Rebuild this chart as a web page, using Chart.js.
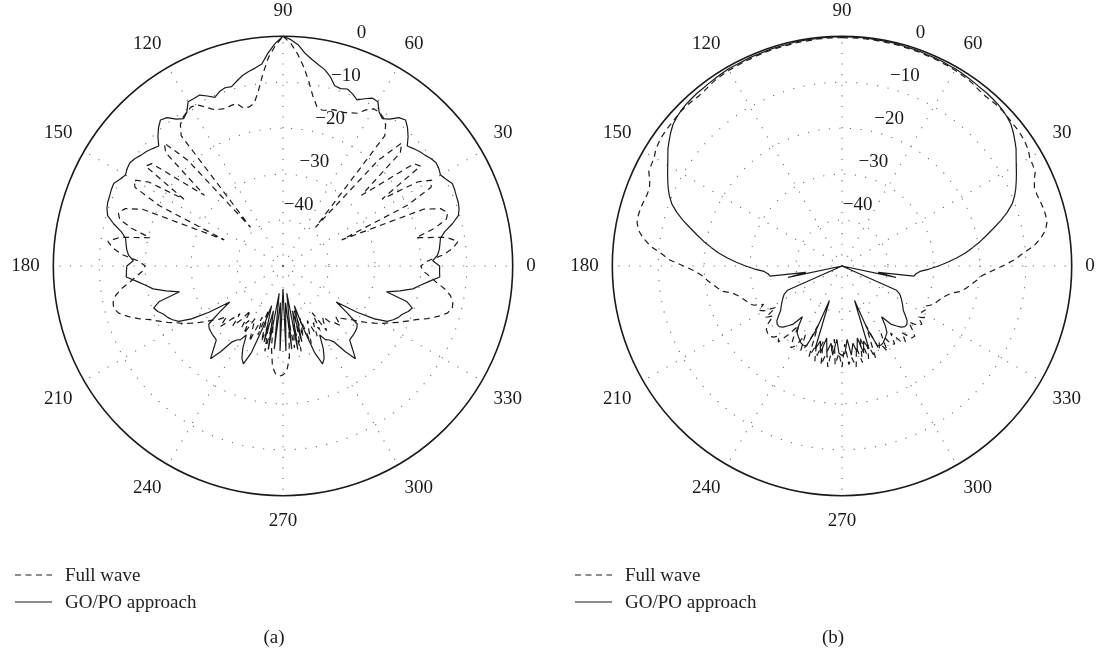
<!DOCTYPE html>
<html>
<head>
<meta charset="utf-8">
<script src="https://cdn.jsdelivr.net/npm/chart.js@4.4.1/dist/chart.umd.min.js"></script>
<style>
html,body{margin:0;padding:0;background:#fff;overflow:hidden;width:1099px;height:656px;position:relative;}
canvas{position:absolute;top:0;}
.legend{position:absolute;font-family:'Liberation Serif','DejaVu Serif',serif;font-size:19px;color:#222;}
.legend .row{display:flex;align-items:center;height:26.7px;white-space:nowrap;}
.legend svg{margin-right:13px;display:block;}
</style>
</head>
<body>
<canvas id="ca" width="548" height="656" style="left:0px"></canvas>
<canvas id="cb" width="548" height="656" style="left:559px"></canvas>
<div id="la" class="legend" style="left:15px;top:562px"></div>
<div id="lb" class="legend" style="left:575px;top:562px"></div>
<script>
// ---- categories: polar angle in degrees (0 = right, 90 = top, counter-clockwise)
const angleDeg = Array.from({length: 180}, (_, i) => i * 2);

// ---- series values in dB, one value per angle in angleDeg (rows of 30 degrees)
const fullWaveA = [
  -20.0,-18.5,-15.0,-12.8,-11.5,-14.0,-20.4,-16.0,-13.0,-12.3,-13.5,-17.0,-36.0,-20.0,-13.5,
  -12.6,-15.5,-24.0,-13.0,-13.8,-22.0,-27.0,-14.5,-12.8,-19.0,-39.0,-14.0,-12.0,-11.0,-10.5,
  -10.5,-11.5,-13.0,-13.5,-14.0,-14.2,-14.2,-14.8,-15.0,-14.5,-12.5,-9.5,-6.5,-3.8,-1.5,
  0.0,-2.0,-4.5,-8.0,-11.5,-14.0,-14.6,-14.6,-13.2,-13.3,-13.5,-13.2,-12.7,-11.5,-10.3,
  -10.0,-10.5,-11.0,-12.0,-14.0,-39.0,-19.0,-12.8,-14.5,-27.0,-22.0,-13.8,-13.0,-24.0,-15.5,
  -12.6,-13.5,-20.0,-36.0,-17.0,-13.5,-12.3,-13.0,-16.0,-20.4,-14.0,-11.5,-12.8,-15.0,-18.5,
  -20.0,-19.5,-18.0,-16.5,-14.5,-13.0,-12.2,-12.0,-12.8,-14.5,-16.5,-18.8,-20.5,-22.0,-23.7,
  -25.0,-26.5,-28.0,-29.5,-31.0,-32.0,-33.5,-31.0,-34.0,-36.0,-33.0,-35.0,-38.0,-34.0,-36.0,
  -33.0,-37.0,-35.0,-32.0,-38.0,-34.0,-40.0,-33.0,-37.0,-31.0,-38.0,-32.0,-28.0,-26.5,-26.0,
  -26.3,-27.0,-30.0,-38.0,-32.0,-37.0,-31.0,-40.0,-34.0,-38.0,-32.0,-35.0,-37.0,-33.0,-36.0,
  -34.0,-38.0,-33.0,-35.0,-36.0,-34.0,-33.5,-32.0,-34.0,-33.0,-32.0,-31.0,-29.5,-28.0,-26.5,
  -25.0,-23.7,-22.0,-20.5,-18.8,-16.5,-14.5,-12.8,-12.0,-12.2,-13.0,-14.5,-16.5,-18.0,-19.5
];
const goPoA = [
  -15.9,-17.4,-16.3,-15.8,-15.5,-15.2,-14.0,-12.0,-10.3,-9.7,-9.4,-9.3,-9.1,-9.0,-9.8,
  -10.4,-10.0,-9.8,-10.2,-10.8,-11.2,-11.8,-12.4,-10.8,-9.5,-8.5,-9.0,-10.5,-11.3,-10.5,
  -8.7,-8.6,-9.5,-10.4,-9.6,-9.0,-9.4,-9.2,-7.5,-6.3,-5.5,-4.6,-3.5,-1.8,-0.7,
  0.0,-1.5,-3.5,-5.8,-6.5,-7.0,-7.6,-8.5,-9.4,-9.2,-9.6,-10.4,-9.5,-8.6,-8.7,
  -8.7,-10.5,-11.3,-10.5,-9.0,-8.5,-9.5,-10.8,-12.4,-11.8,-11.2,-10.8,-10.2,-9.8,-10.0,
  -10.4,-9.8,-9.0,-9.1,-9.3,-9.4,-9.7,-10.3,-12.0,-14.0,-15.2,-15.5,-15.8,-16.3,-17.4,
  -16.0,-15.9,-15.8,-18.0,-19.8,-21.3,-24.0,-26.8,-22.0,-20.4,-21.0,-22.0,-22.5,-23.3,-24.3,
  -27.0,-31.0,-36.0,-33.0,-29.5,-29.0,-28.8,-28.6,-28.5,-28.3,-26.5,-24.4,-27.0,-30.0,-31.0,
  -31.5,-33.0,-30.0,-28.0,-27.0,-30.0,-36.0,-41.0,-33.0,-40.0,-31.5,-44.0,-31.8,-42.0,-31.5,
  -45.0,-31.5,-42.0,-31.8,-44.0,-31.5,-40.0,-33.0,-41.0,-36.0,-30.0,-27.0,-28.0,-30.0,-33.0,
  -31.5,-31.0,-30.0,-27.0,-24.4,-26.5,-28.3,-28.5,-28.6,-28.8,-29.0,-29.5,-33.0,-36.0,-31.0,
  -27.0,-24.3,-23.3,-22.5,-22.0,-21.0,-20.4,-22.0,-26.8,-24.0,-21.3,-19.8,-18.0,-15.8,-15.9
];
const fullWaveB = [
  -15.0,-12.5,-10.5,-8.0,-6.3,-5.0,-4.4,-4.3,-4.4,-4.6,-4.8,-4.8,-4.2,-3.2,-3.0,
  -2.8,-2.2,-1.9,-1.7,-1.6,-1.6,-1.5,-1.4,-1.4,-1.5,-1.6,-1.5,-1.2,-1.0,-0.9,
  -0.8,-0.7,-0.7,-0.6,-0.6,-0.5,-0.5,-0.5,-0.4,-0.4,-0.4,-0.3,-0.3,-0.3,-0.3,
  -0.3,-0.3,-0.3,-0.3,-0.4,-0.4,-0.4,-0.5,-0.5,-0.5,-0.6,-0.6,-0.7,-0.7,-0.8,
  -0.8,-0.9,-1.0,-1.2,-1.5,-1.6,-1.5,-1.4,-1.4,-1.5,-1.6,-1.6,-1.7,-1.9,-2.2,
  -2.8,-3.0,-3.2,-4.2,-4.8,-4.8,-4.6,-4.4,-4.3,-4.4,-5.0,-6.3,-8.0,-10.5,-12.5,
  -15.5,-18.0,-19.5,-20.5,-21.5,-22.5,-23.5,-25.5,-26.5,-27.2,-27.8,-28.2,-29.0,-31.0,-29.5,
  -30.5,-33.0,-30.0,-31.5,-29.5,-28.5,-28.2,-28.0,-28.5,-29.5,-28.4,-31.0,-34.0,-31.0,-29.0,
  -30.0,-33.0,-29.5,-31.0,-36.0,-29.0,-32.0,-28.5,-33.0,-28.0,-31.0,-27.8,-34.0,-28.5,-31.0,
  -28.0,-33.0,-28.5,-30.0,-27.8,-32.0,-28.5,-34.0,-29.0,-32.0,-28.6,-36.0,-30.0,-31.5,-29.0,
  -33.0,-30.0,-29.5,-32.0,-29.0,-28.5,-30.5,-28.2,-28.0,-29.5,-31.0,-29.0,-28.5,-30.0,-28.8,
  -30.0,-29.5,-30.0,-29.0,-28.2,-27.8,-27.2,-26.5,-25.5,-23.5,-22.5,-21.5,-20.5,-19.5,-17.5
];
const goPoB = [
  -29.0,-27.0,-25.0,-23.0,-21.3,-19.5,-17.8,-16.0,-14.0,-12.2,-10.6,-9.5,-8.6,-7.8,-7.0,
  -6.2,-5.3,-4.3,-3.5,-2.7,-2.0,-1.6,-1.3,-1.1,-1.0,-0.9,-0.9,-0.8,-0.7,-0.6,
  -0.5,-0.5,-0.4,-0.4,-0.4,-0.3,-0.3,-0.3,-0.2,-0.2,-0.2,-0.2,-0.1,-0.1,-0.1,
  -0.1,-0.1,-0.1,-0.2,-0.2,-0.2,-0.2,-0.3,-0.3,-0.3,-0.4,-0.4,-0.4,-0.5,-0.5,
  -0.5,-0.6,-0.7,-0.8,-0.9,-0.9,-1.0,-1.1,-1.3,-1.6,-2.0,-2.7,-3.5,-4.3,-5.3,
  -6.2,-7.0,-7.8,-8.6,-9.5,-10.6,-12.2,-14.0,-16.0,-17.8,-19.5,-21.3,-23.0,-25.0,-27.0,
  -29.0,-31.0,-33.0,-33.8,-34.2,-42.0,-38.0,-50.0,-50.0,-50.0,-50.0,-50.0,-37.0,-36.0,-35.5,
  -35.0,-34.5,-34.0,-33.5,-32.5,-31.5,-31.0,-31.0,-31.5,-32.5,-33.5,-36.0,-34.0,-32.5,-32.0,
  -31.5,-31.0,-30.8,-31.0,-35.0,-42.0,-31.0,-33.0,-30.5,-34.0,-31.0,-33.0,-30.5,-34.0,-31.0,
  -30.5,-31.0,-34.0,-30.5,-33.0,-31.0,-34.0,-30.5,-33.0,-31.0,-42.0,-35.0,-31.0,-30.8,-31.0,
  -31.5,-32.0,-32.5,-34.0,-36.0,-33.5,-32.5,-31.5,-31.0,-31.0,-31.5,-32.5,-33.5,-34.0,-34.5,
  -35.0,-35.5,-36.0,-37.0,-50.0,-50.0,-50.0,-50.0,-50.0,-38.0,-42.0,-34.2,-33.8,-33.0,-31.0
];

// ---- axis / text
const angleTickStep = 30;           // labelled angle every 30 degrees
const radialMin = -50, radialMax = 0, radialStep = 10;
const seriesNames = ['Full wave', 'GO/PO approach'];
const panelCaptions = ['(a)', '(b)'];

const SERIF = "'Liberation Serif', 'DejaVu Serif', serif";
const INK = '#1a1a1a';
const GRID = '#6a6a6a';

// radar charts run clockwise from the top; start at 90 deg and go down
const startIdx = angleDeg.indexOf(90);
function toRadarOrder(arr) {
  const n = arr.length;
  return arr.map((_, k) => arr[(startIdx - k + n) % n]);
}
const radarLabels = toRadarOrder(angleDeg).map(String);
const isMajorAngle = (i) => Number(radarLabels[i]) % angleTickStep === 0;

const tickLabelPlugin = {
  id: 'polarTickLabels',
  beforeDatasetsDraw(chart) {
    const s = chart.scales.r;
    const ctx = chart.ctx;
    const k = radarLabels.indexOf('70');
    ctx.save();
    ctx.font = "19px " + SERIF;
    ctx.fillStyle = INK;
    ctx.textAlign = 'center';
    ctx.textBaseline = 'middle';
    s.ticks.forEach(t => {
      if (t.value <= radialMin) return;
      const d = s.getDistanceFromCenterForValue(t.value);
      const p = s.getPointPosition(k, d);
      const txt = t.value < 0 ? '\u2212' + Math.abs(t.value) : String(t.value);
      ctx.fillText(txt, p.x, p.y - 17.5);
    });
    ctx.restore();
  }
};

const htmlLegendPlugin = {
  id: 'htmlLegend',
  afterUpdate(chart, args, opts) {
    const el = document.getElementById(opts.containerID);
    if (!el) return;
    el.innerHTML = '';
    const items = chart.options.plugins.legend.labels.generateLabels(chart);
    items.forEach(item => {
      const row = document.createElement('div');
      row.className = 'row';
      const dash = (item.lineDash && item.lineDash.length) ? item.lineDash.join(' ') : 'none';
      row.innerHTML = '<svg width="37" height="10"><line x1="0" y1="5" x2="37" y2="5" stroke="' +
        item.strokeStyle + '" stroke-width="1.2" stroke-dasharray="' + dash + '"/></svg>';
      const span = document.createElement('span');
      span.textContent = item.text;
      row.appendChild(span);
      el.appendChild(row);
    });
  }
};

function makePolar(canvasId, legendId, caption, fullWave, goPo) {
  return new Chart(document.getElementById(canvasId), {
    type: 'radar',
    data: {
      labels: radarLabels,
      datasets: [
        { label: seriesNames[0], data: toRadarOrder(fullWave), borderColor: INK, borderWidth: 1.2,
          borderDash: [6, 4.5], borderJoinStyle: 'bevel', pointRadius: 0, fill: false, tension: 0 },
        { label: seriesNames[1], data: toRadarOrder(goPo), borderColor: INK, borderWidth: 1.2,
          borderJoinStyle: 'bevel', pointRadius: 0, fill: false, tension: 0 }
      ]
    },
    options: {
      responsive: false,
      animation: false,
      events: [],
      layout: { padding: 0 },
      scales: {
        r: {
          min: radialMin, max: radialMax,
          startAngle: 0,
          ticks: { display: false, stepSize: radialStep },
          pointLabels: {
            display: true,
            padding: 13.5,
            color: INK,
            font: { family: SERIF, size: 19 },
            callback: (label) => (Number(label) % angleTickStep === 0 ? label : '')
          },
          grid: {
            circular: true,
            color: c => (c.tick && c.tick.value === radialMax) ? INK : GRID,
            lineWidth: c => (!c.tick || c.tick.value <= radialMin) ? 0 : (c.tick.value === radialMax ? 1.6 : 1.1),
            borderDash: c => (c.tick && c.tick.value === radialMax) ? [] : [1.1, 9.5]
          },
          border: {
            dash: c => (c.tick && c.tick.value === radialMax) ? [] : [1.1, 9.5]
          },
          angleLines: {
            display: true,
            color: c => isMajorAngle(c.index) ? GRID : 'rgba(0,0,0,0)',
            lineWidth: c => isMajorAngle(c.index) ? 1.1 : 0,
            borderDash: [1.1, 9.5]
          }
        }
      },
      plugins: {
        legend: { display: false },
        tooltip: { enabled: false },
        htmlLegend: { containerID: legendId },
        title: {
          display: true,
          position: 'bottom',
          text: caption,
          color: INK,
          font: { family: SERIF, size: 19, weight: 'normal' },
          padding: { top: 93.6, bottom: 6.6 }
        }
      }
    },
    plugins: [tickLabelPlugin, htmlLegendPlugin]
  });
}

makePolar('ca', 'la', panelCaptions[0], fullWaveA, goPoA);
makePolar('cb', 'lb', panelCaptions[1], fullWaveB, goPoB);
</script>
</body>
</html>
